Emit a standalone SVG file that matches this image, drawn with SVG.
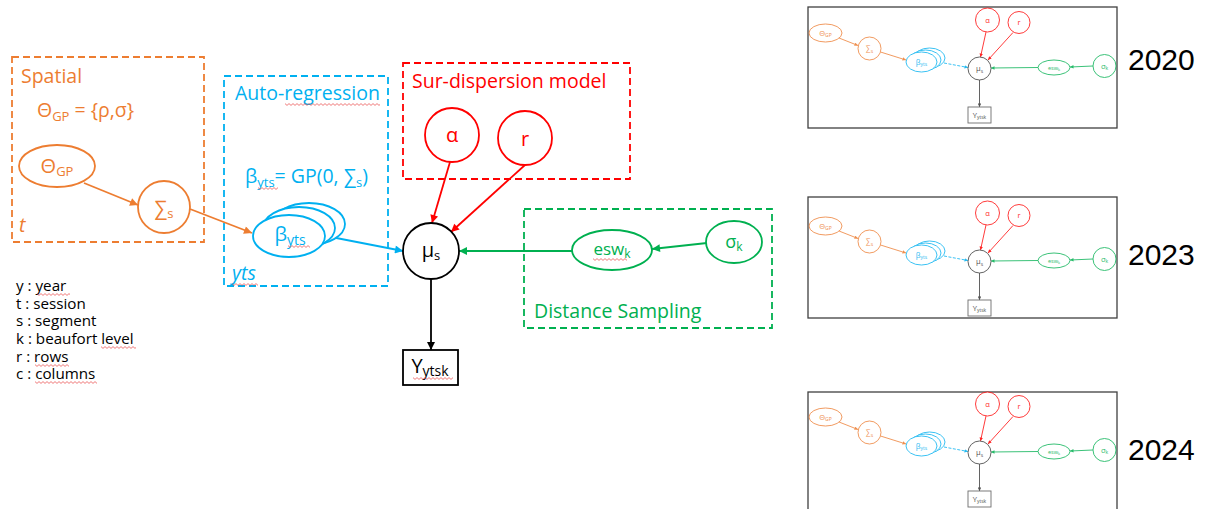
<svg xmlns="http://www.w3.org/2000/svg" xmlns:xlink="http://www.w3.org/1999/xlink" width="1206" height="509" viewBox="0 0 1206 509">
<style>
text{font-family:"Open Sans","Liberation Sans",sans-serif}
.or{stroke:#ED7D31}.bl{stroke:#00B0F0}.rd{stroke:#FF0000}.gr{stroke:#00B050}.bk{stroke:#000}
.plate{fill:none;stroke-width:1.8;stroke-dasharray:7 4}
.node{fill:#fff;stroke-width:1.8}
.edge{fill:none;stroke-width:1.8}
.h{font-size:19.5px}
.lab{font-size:20px}
.leg{font-size:15.2px;fill:#000}
.tn{fill:#fff;stroke-width:0.9}
.te{fill:none;stroke-width:0.9}
.tt{font-size:7.5px}
.yr{font-family:"Liberation Sans",Arial,sans-serif;font-size:30px;fill:#000}
</style>
<defs>
<marker id="aOr" viewBox="0 0 10 10" refX="10" refY="5" markerWidth="10" markerHeight="8" markerUnits="userSpaceOnUse" orient="auto"><path d="M0,0L10,5L0,10z" fill="#ED7D31"/></marker>
<marker id="aBl" viewBox="0 0 10 10" refX="10" refY="5" markerWidth="10" markerHeight="8" markerUnits="userSpaceOnUse" orient="auto"><path d="M0,0L10,5L0,10z" fill="#00B0F0"/></marker>
<marker id="aRd" viewBox="0 0 10 10" refX="10" refY="5" markerWidth="10" markerHeight="8" markerUnits="userSpaceOnUse" orient="auto"><path d="M0,0L10,5L0,10z" fill="#FF0000"/></marker>
<marker id="aGr" viewBox="0 0 10 10" refX="10" refY="5" markerWidth="10" markerHeight="8" markerUnits="userSpaceOnUse" orient="auto"><path d="M0,0L10,5L0,10z" fill="#00B050"/></marker>
<marker id="aBk" viewBox="0 0 10 10" refX="10" refY="5" markerWidth="10" markerHeight="8" markerUnits="userSpaceOnUse" orient="auto"><path d="M0,0L10,5L0,10z" fill="#000"/></marker>
<marker id="tOr" viewBox="0 0 10 10" refX="10" refY="5" markerWidth="4" markerHeight="3.5" markerUnits="userSpaceOnUse" orient="auto"><path d="M0,0L10,5L0,10z" fill="#ED7D31"/></marker>
<marker id="tBl" viewBox="0 0 10 10" refX="10" refY="5" markerWidth="4" markerHeight="3.5" markerUnits="userSpaceOnUse" orient="auto"><path d="M0,0L10,5L0,10z" fill="#00B0F0"/></marker>
<marker id="tRd" viewBox="0 0 10 10" refX="10" refY="5" markerWidth="4" markerHeight="3.5" markerUnits="userSpaceOnUse" orient="auto"><path d="M0,0L10,5L0,10z" fill="#FF0000"/></marker>
<marker id="tGr" viewBox="0 0 10 10" refX="10" refY="5" markerWidth="4" markerHeight="3.5" markerUnits="userSpaceOnUse" orient="auto"><path d="M0,0L10,5L0,10z" fill="#00B050"/></marker>
<marker id="tBk" viewBox="0 0 10 10" refX="10" refY="5" markerWidth="4" markerHeight="3.5" markerUnits="userSpaceOnUse" orient="auto"><path d="M0,0L10,5L0,10z" fill="#333"/></marker>
<pattern id="sq" width="4" height="3" patternUnits="userSpaceOnUse"><path d="M0,0.6L2,2.4L4,0.6" fill="none" stroke="#E84040" stroke-width="0.7"/></pattern>
<g id="thumb">
 <g opacity="0.85">
 <g class="te">
  <line class="or" x1="31" y1="31" x2="50" y2="38.5" marker-end="url(#tOr)"/>
  <line class="or" x1="72.5" y1="45" x2="98" y2="53" marker-end="url(#tOr)"/>
  <line class="bl" x1="136" y1="56" x2="160" y2="60.5" stroke-dasharray="3 1.5" marker-end="url(#tBl)"/>
  <line class="rd" x1="178" y1="25" x2="172.5" y2="50" marker-end="url(#tRd)"/>
  <line class="rd" x1="205" y1="25.5" x2="180" y2="53" marker-end="url(#tRd)"/>
  <line class="gr" x1="230" y1="60.5" x2="183" y2="61" marker-end="url(#tGr)"/>
  <line class="gr" x1="285" y1="59" x2="262" y2="60" marker-end="url(#tGr)"/>
  <line stroke="#333" x1="171.5" y1="73" x2="171.5" y2="100" marker-end="url(#tBk)"/>
 </g>
 <ellipse class="tn or" cx="17.5" cy="26" rx="16.5" ry="9"/>
 <text class="tt" x="17.5" y="28.5" text-anchor="middle" fill="#ED7D31">Θ<tspan font-size="5" dy="1.5">GP</tspan></text>
 <circle class="tn or" cx="61.5" cy="41.5" r="11.5"/>
 <text class="tt" x="61.5" y="44" text-anchor="middle" fill="#ED7D31">∑<tspan font-size="5" dy="1.5">s</tspan></text>
 <ellipse class="tn bl" cx="121.5" cy="51" rx="15.5" ry="10"/>
 <ellipse class="tn bl" cx="117.5" cy="53" rx="15.5" ry="10"/>
 <ellipse class="tn bl" cx="113.5" cy="55" rx="15.5" ry="10"/>
 <text class="tt" x="113.5" y="57.5" text-anchor="middle" fill="#00B0F0">β<tspan font-size="5" dy="1.5">yts</tspan></text>
 <circle class="tn" stroke="#333" cx="171.5" cy="61.5" r="11.5"/>
 <text class="tt" x="171.5" y="64" text-anchor="middle" fill="#333">μ<tspan font-size="5" dy="1.5">s</tspan></text>
 <circle class="tn rd" cx="179.5" cy="13" r="12"/>
 <text class="tt" x="179.5" y="15.5" text-anchor="middle" fill="#FF0000">α</text>
 <circle class="tn rd" cx="211" cy="15.5" r="11"/>
 <text class="tt" x="211" y="18" text-anchor="middle" fill="#FF0000">r</text>
 <ellipse class="tn gr" cx="246" cy="60.5" rx="16" ry="7.5"/>
 <text font-size="5.5" x="246" y="62.5" text-anchor="middle" fill="#00B050">esw<tspan font-size="4" dy="1">k</tspan></text>
 <circle class="tn gr" cx="296.5" cy="59" r="11.5"/>
 <text class="tt" x="296.5" y="61.5" text-anchor="middle" fill="#00B050">σ<tspan font-size="5" dy="1.5">k</tspan></text>
 <rect class="tn" stroke="#555" x="160" y="100" width="23" height="16"/>
 <text class="tt" x="171.5" y="110.5" text-anchor="middle" fill="#333">Y<tspan font-size="5" dy="1.5">ytsk</tspan></text>
 </g>
</g>
</defs>

<g id="plate-spatial">
 <rect class="plate or" x="12" y="57" width="192" height="185"/>
 <text class="h" x="21" y="83" fill="#ED7D31">Spatial</text>
 <text class="h" x="37" y="117" fill="#ED7D31">Θ<tspan font-size="13" dy="4">GP</tspan><tspan dy="-4"> = {ρ,σ}</tspan></text>
 <text class="h" x="19" y="232" fill="#ED7D31" font-style="italic">t</text>
</g>
<g id="plate-autoregression">
 <rect class="plate bl" x="224" y="76" width="164" height="210"/>
 <text class="h" x="235" y="100" fill="#00B0F0">Auto-regression</text>
 <text class="h" x="245" y="183" fill="#00B0F0">β<tspan font-size="13" dy="4">yts</tspan><tspan dy="-4">= GP(0, ∑</tspan><tspan font-size="13" dy="4">s</tspan><tspan dy="-4">)</tspan></text>
 <text class="h" x="232" y="280" fill="#00B0F0" font-style="italic">yts</text>
</g>
<g id="plate-surdispersion">
 <rect class="plate rd" x="403" y="63" width="227" height="116"/>
 <text class="h" x="412" y="88" fill="#FF0000">Sur-dispersion model</text>
</g>
<g id="plate-distance">
 <rect class="plate gr" x="524" y="209" width="248" height="119"/>
 <text class="h" x="534" y="318" fill="#00B050">Distance Sampling</text>
</g>

<g id="connectors" class="edge">
 <line class="or" x1="84" y1="183" x2="138" y2="205" marker-end="url(#aOr)"/>
 <line class="or" x1="190" y1="209" x2="252" y2="233" marker-end="url(#aOr)"/>
 <line class="bl" x1="326" y1="236" x2="403" y2="251" marker-end="url(#aBl)"/>
 <line class="rd" x1="450" y1="162" x2="432" y2="223" marker-end="url(#aRd)"/>
 <line class="rd" x1="525" y1="165" x2="451" y2="232" marker-end="url(#aRd)"/>
 <line class="gr" x1="572" y1="251" x2="459" y2="251" marker-end="url(#aGr)"/>
 <line class="gr" x1="707" y1="243" x2="652" y2="249" marker-end="url(#aGr)"/>
 <line class="bk" x1="431" y1="279" x2="431" y2="350" marker-end="url(#aBk)"/>
</g>

<g id="node-theta">
 <ellipse class="node or" cx="57" cy="166" rx="38" ry="21"/>
 <text class="lab" x="57" y="173" text-anchor="middle" fill="#ED7D31">Θ<tspan font-size="13" dy="3">GP</tspan></text>
</g>
<g id="node-sigma">
 <circle class="node or" cx="164" cy="207" r="26"/>
 <text class="lab" x="164" y="215" text-anchor="middle" fill="#ED7D31">∑<tspan font-size="13" dy="3">s</tspan></text>
</g>
<g id="node-beta">
 <ellipse class="node bl" cx="309" cy="224" rx="36" ry="21"/>
 <ellipse class="node bl" cx="299" cy="228" rx="36" ry="21"/>
 <ellipse class="node bl" cx="289" cy="236" rx="36" ry="21"/>
 <text class="lab" x="290" y="241" text-anchor="middle" fill="#00B0F0">β<tspan font-size="14" dy="4">yts</tspan></text>
</g>
<g id="node-alpha">
 <circle class="node rd" cx="452" cy="135" r="27"/>
 <text class="lab" x="452" y="142" text-anchor="middle" fill="#FF0000">α</text>
</g>
<g id="node-r">
 <circle class="node rd" cx="525" cy="138" r="27"/>
 <text class="lab" x="525" y="146" text-anchor="middle" fill="#FF0000">r</text>
</g>
<g id="node-mu">
 <circle class="node bk" cx="431" cy="251" r="28"/>
 <text class="lab" x="431" y="257" text-anchor="middle" fill="#000">μ<tspan font-size="13" dy="3">s</tspan></text>
</g>
<g id="node-y">
 <rect class="node bk" x="403" y="350" width="55" height="35"/>
 <text class="lab" x="430" y="373" text-anchor="middle" fill="#000">Y<tspan font-size="14" dy="3">ytsk</tspan></text>
</g>
<g id="node-esw">
 <ellipse class="node gr" cx="612" cy="250" rx="40" ry="20"/>
 <text x="612" y="255" font-size="17" text-anchor="middle" fill="#00B050">esw<tspan font-size="12" dy="3">k</tspan></text>
</g>
<g id="node-sigmak">
 <ellipse class="node gr" cx="734" cy="242" rx="28" ry="21"/>
 <text x="734" y="248" font-size="18" text-anchor="middle" fill="#00B050">σ<tspan font-size="12" dy="3">k</tspan></text>
</g>

<g id="legend">
 <text class="leg" x="16" y="291">y : year</text>
 <text class="leg" x="16" y="308.5">t : session</text>
 <text class="leg" x="16" y="326">s : segment</text>
 <text class="leg" x="16" y="344">k : beaufort level</text>
 <text class="leg" x="16" y="361.5">r : rows</text>
 <text class="leg" x="16" y="379">c : columns</text>
</g>

<g id="spellmarks">
 <rect transform="translate(285,103)" width="95" height="3" fill="url(#sq)"/>
 <rect transform="translate(258,187)" width="20" height="3" fill="url(#sq)"/>
 <rect transform="translate(288,245)" width="22" height="3" fill="url(#sq)"/>
 <rect transform="translate(232,283)" width="26" height="3" fill="url(#sq)"/>
 <rect transform="translate(37,293)" width="33" height="3" fill="url(#sq)"/>
 <rect transform="translate(101,346)" width="35" height="3" fill="url(#sq)"/>
 <rect transform="translate(35,364)" width="34" height="3" fill="url(#sq)"/>
 <rect transform="translate(35,381)" width="62" height="3" fill="url(#sq)"/>
 <rect transform="translate(593,258)" width="34" height="3" fill="url(#sq)"/>
 <rect transform="translate(413,377)" width="40" height="3" fill="url(#sq)"/>
</g>

<g id="thumb-2020">
 <rect x="808" y="7" width="309" height="121" fill="#fff" stroke="#404040" stroke-width="1.3"/>
 <use xlink:href="#thumb" transform="translate(808,7)"/>
 <text class="yr" x="1128" y="70">2020</text>
</g>
<g id="thumb-2023">
 <rect x="808" y="197" width="309" height="121" fill="#fff" stroke="#404040" stroke-width="1.3"/>
 <use xlink:href="#thumb" transform="translate(808,200)"/>
 <text class="yr" x="1128" y="265">2023</text>
</g>
<g id="thumb-2024">
 <rect x="808" y="392" width="309" height="121" fill="#fff" stroke="#404040" stroke-width="1.3"/>
 <use xlink:href="#thumb" transform="translate(808,391)"/>
 <text class="yr" x="1128" y="460">2024</text>
</g>
</svg>
